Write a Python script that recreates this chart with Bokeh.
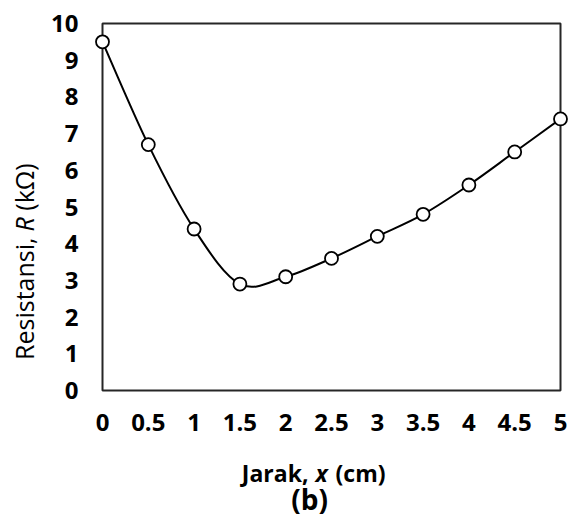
import numpy as np
from bokeh.plotting import figure
from bokeh.models import FixedTicker, ColumnDataSource
from bokeh.core.properties import value
from bokeh.embed import file_html
from bokeh.resources import INLINE

# Data
jarak = [0, 0.5, 1, 1.5, 2, 2.5, 3, 3.5, 4, 4.5, 5]
resistansi = [9.5, 6.7, 4.4, 2.9, 3.1, 3.6, 4.2, 4.8, 5.6, 6.5, 7.4]
x_ticks = [0, 0.5, 1, 1.5, 2, 2.5, 3, 3.5, 4, 4.5, 5]
x_tick_labels = ["0", "0.5", "1", "1.5", "2", "2.5", "3", "3.5", "4", "4.5", "5"]
y_ticks = [0, 1, 2, 3, 4, 5, 6, 7, 8, 9, 10]
y_tick_labels = ["0", "1", "2", "3", "4", "5", "6", "7", "8", "9", "10"]

FONT = "Open Sans"

p = figure(width=569, height=517, x_range=(0, 5), y_range=(0, 10),
           output_backend="svg", toolbar_location=None,
           min_border_left=102, min_border_right=9, min_border_top=23, min_border_bottom=127)
p.title.visible = False
p.xgrid.visible = False
p.ygrid.visible = False
p.background_fill_color = "white"
p.border_fill_color = "white"
p.outline_line_color = "#262626"
p.outline_line_width = 2

for ax in (p.xaxis[0], p.yaxis[0]):
    ax.axis_line_color = None
    ax.major_tick_line_color = None
    ax.minor_tick_line_color = None
    ax.major_tick_out = 0
    ax.major_tick_in = 0
    ax.minor_tick_out = 0
    ax.minor_tick_in = 0
    ax.major_label_text_font = FONT
    ax.major_label_text_font_style = "bold"
    ax.major_label_text_font_size = "24px"
    ax.major_label_text_color = "black"

p.xaxis[0].ticker = FixedTicker(ticks=x_ticks)
p.xaxis[0].major_label_overrides = {t: l for t, l in zip(x_ticks, x_tick_labels)}
p.xaxis[0].major_label_standoff = 23
p.yaxis[0].ticker = FixedTicker(ticks=y_ticks)
p.yaxis[0].major_label_overrides = {t: l for t, l in zip(y_ticks, y_tick_labels)}
p.yaxis[0].major_label_standoff = 24

# Smoothed line (Catmull-Rom style Bezier segments through the points)
xs = np.array(jarak, dtype=float)
ys = np.array(resistansi, dtype=float)
n = len(xs)
xp = np.concatenate([[xs[0]], xs, [xs[-1]]])
yp = np.concatenate([[ys[0]], ys, [ys[-1]]])
x0 = xs[:-1]; y0 = ys[:-1]; x1 = xs[1:]; y1 = ys[1:]
cx0 = x0 + (xp[2:n + 1] - xp[0:n - 1]) / 6.0
cy0 = y0 + (yp[2:n + 1] - yp[0:n - 1]) / 6.0
cx1 = x1 - (xp[3:n + 2] - xp[1:n]) / 6.0
cy1 = y1 - (yp[3:n + 2] - yp[1:n]) / 6.0
bez = ColumnDataSource(dict(x0=x0, y0=y0, x1=x1, y1=y1, cx0=cx0, cy0=cy0, cx1=cx1, cy1=cy1))
p.bezier(x0="x0", y0="y0", x1="x1", y1="y1", cx0="cx0", cy0="cy0", cx1="cx1", cy1="cy1",
         source=bez, line_color="black", line_width=2)

pts = p.scatter(jarak, resistansi, size=13, marker="circle", fill_color="white",
                line_color="black", line_width=1.8)
pts.level = "overlay"

# Axis titles with mixed styles (text glyphs drawn above the frame clip)
def lab(text, x, y, align="left", style="bold", size="23px", angle=0.0):
    r = p.text(x=[x], y=[y], text=[text], angle=angle, text_align=align,
               text_baseline="middle", text_font=value(FONT), text_font_style=style,
               text_font_size=size, text_color="black")
    r.level = "overlay"

lab("Jarak,", 2.249, -2.25, align="right")
lab("x", 2.325, -2.25, style="bold italic")
lab("(cm)", 2.544, -2.25)
lab("(b)", 2.26, -2.97, align="center", size="28px")

lab("Resistansi,", -0.852, 4.17, align="right", style="normal", size="25px", angle=np.pi / 2)
lab("R", -0.852, 4.33, style="italic", size="25px", angle=np.pi / 2)
lab("(kΩ)", -0.852, 4.90, style="normal", size="25px", angle=np.pi / 2)

open("out.html", "w").write(file_html(p, INLINE))
